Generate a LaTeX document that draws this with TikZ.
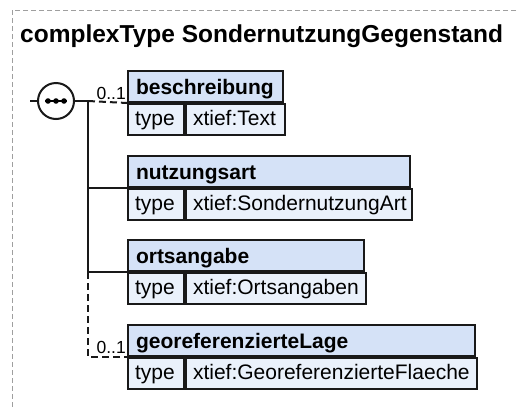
\documentclass[tikz,border=0pt]{standalone}
\usepackage{fontspec}
\setmainfont{Liberation Sans}
\usetikzlibrary{positioning}
\definecolor{headblue}{HTML}{D5E2F7}
\definecolor{rowblue}{HTML}{EAF1FB}
\tikzset{
  frame/.style={draw=gray!75, line width=1pt, dash pattern=on 5pt off 3pt},
  conn/.style={line width=2pt, draw=black!90},
  optconn/.style={conn, dash pattern=on 7pt off 4pt},
  elemhead/.style={draw=black!90, fill=headblue, line width=2pt, anchor=north west,
    inner xsep=8pt, inner ysep=0pt, text height=23pt, text depth=8pt, align=left,
    font=\fontsize{21}{24}\selectfont\bfseries},
  elemrow/.style={draw=black!90, fill=rowblue, line width=2pt, anchor=north west,
    inner xsep=7pt, inner ysep=0pt, text height=21pt, text depth=10pt, align=left,
    font=\fontsize{21}{24}\selectfont},
  mult/.style={anchor=south east, inner xsep=1pt, inner ysep=3pt, font=\fontsize{17.5}{20}\selectfont},
}
\begin{document}
\begin{tikzpicture}[x=1pt, y=-1pt]
    \useasboundingbox (0,0) rectangle (517,408);
    % Dashed frame (runs past the right and bottom edge)
    \draw[frame] (12,10) rectangle (540,430);

    % Title
    \node[anchor=base west, inner sep=0pt, font=\fontsize{24.5}{28}\selectfont\bfseries]
        (title) at (20,42) {complexType SondernutzungGegenstand};

    % Element boxes: name / top / width / label / type
    \foreach \nm/\y/\w/\lab/\ty in {besch/70/155/beschreibung/Text,
        nutz/155/282/nutzungsart/SondernutzungArt,
        orts/239/236/ortsangabe/Ortsangaben,
        geo/324/347/georeferenzierteLage/GeoreferenzierteFlaeche} {
      \pgfmathsetmacro\tw{\w-16}
      \pgfmathsetmacro\vw{\w-56-14}
      \node[elemhead, text width=\tw pt] (\nm) at (127,\y) {\lab};
      \node[elemrow, text width=42pt] (\nm-key) at (\nm.south west) {type};
      \node[elemrow, text width=\vw pt] (\nm-val) at (\nm-key.north east) {xtief:\ty};
    }

    % Sequence compositor
    \node[draw=black!90, line width=2pt, circle, minimum size=36pt, inner sep=0pt,
        fill=white] (seq) at (56,101) {};
    \draw[line width=2pt] ([xshift=-11pt]seq.center) -- ([xshift=11pt]seq.center);
    \foreach \dx in {-8,0,8}
      \fill ([xshift=\dx pt]seq.center) circle (2.8pt);
    \coordinate (entry) at (30,101);
    \coordinate (fork) at (88,101);

    % Connectors
    \draw[conn] (entry) -- (seq.west);
    \draw[conn] (seq.east) -- (fork);
    \draw[optconn] (fork) -- (besch.south west);
    \draw[conn] (fork) -- (fork |- orts.south west);
    \draw[conn] (fork |- nutz.south west) -- (nutz.south west);
    \draw[conn] (fork |- orts.south west) -- (orts.south west);
    \draw[optconn] (fork |- orts.south west) -- (fork |- geo.south west) -- (geo.south west);

    % Multiplicities
    \node[mult] (besch-mult) at (besch.south west) {0..1};
    \node[mult] (geo-mult) at (geo.south west) {0..1};
\end{tikzpicture}
\end{document}
